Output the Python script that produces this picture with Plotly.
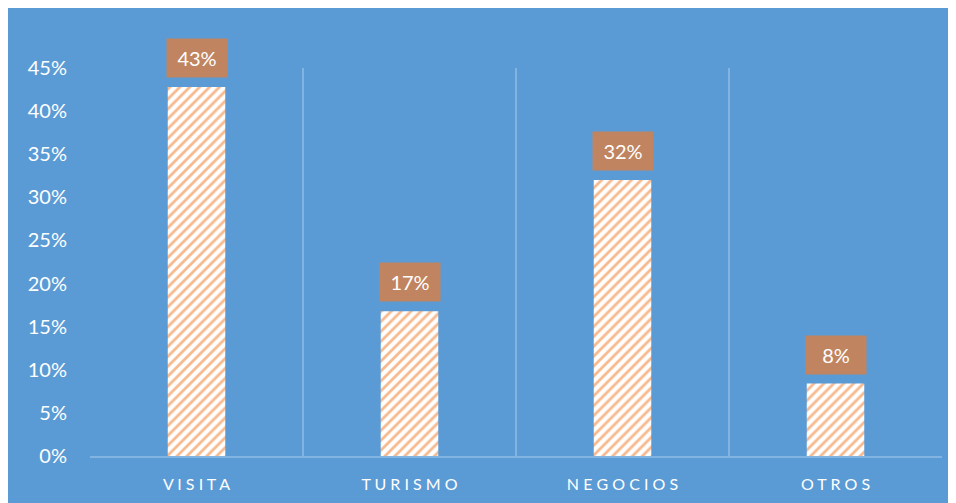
import plotly.graph_objects as go

categories = ["VISITA", "TURISMO", "NEGOCIOS", "OTROS"]
tick_labels = ["V I S I T A", "T U R I S M O", "N E G O C I O S", "O T R O S"]
values = [0.428, 0.168, 0.32, 0.084]
value_labels = ["43%", "17%", "32%", "8%"]
y_ticks = [0, 0.05, 0.10, 0.15, 0.20, 0.25, 0.30, 0.35, 0.40, 0.45]
y_tick_labels = ["0%", "5%", "10%", "15%", "20%", "25%", "30%", "35%", "40%", "45%"]

BLUE = "#5B9BD5"
FONT = "Lato"

fig = go.Figure()
fig.add_trace(go.Bar(
    x=categories, y=values, width=0.27,
    marker=dict(color="white", line=dict(width=0),
                pattern=dict(shape="/", fgcolor="#F0731E", bgcolor="white",
                             size=7, solidity=0.4)),
    hoverinfo="skip",
))

for c, v, t in zip(categories, values, value_labels):
    fig.add_annotation(x=c, y=v, text=t, showarrow=False, yanchor="bottom",
                       yshift=9, width=58, height=36, bgcolor="#C08560",
                       font=dict(family=FONT, size=20, color="white"))

fig.update_layout(
    width=956, height=503,
    margin=dict(l=82, r=22, t=60, b=55),
    paper_bgcolor=BLUE, plot_bgcolor=BLUE,
    showlegend=False,
    xaxis=dict(tickvals=categories, ticktext=tick_labels, tickson="boundaries",
               showgrid=True, gridcolor="#82B4E2", gridwidth=1.5,
               showline=True, linecolor="#82B4E2", linewidth=1.5,
               ticks="", tickfont=dict(family=FONT, size=16, color="white"),
               ticklabelstandoff=13),
    yaxis=dict(range=[0, 0.45], tickvals=y_ticks, ticktext=y_tick_labels,
               showgrid=False, zeroline=False, showline=False,
               tickfont=dict(family=FONT, size=20, color="white"),
               ticklabelstandoff=22),
)

fig.write_html("out.html")
